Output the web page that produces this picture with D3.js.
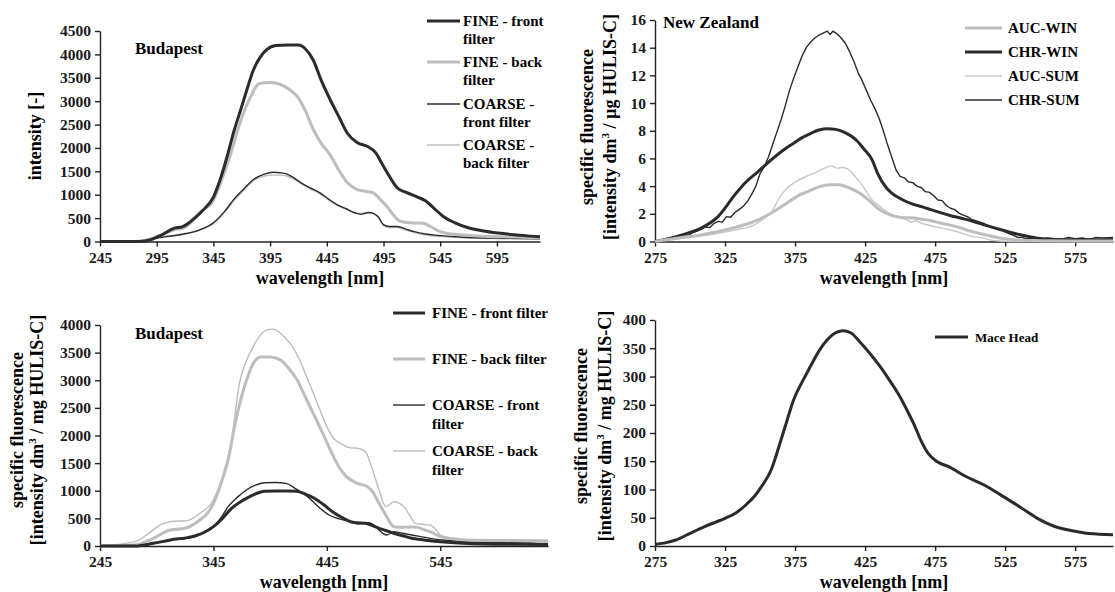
<!DOCTYPE html>
<html lang="en">
<head>
<meta charset="UTF-8">
<title>HULIS fluorescence spectra</title>
<style>
  body { margin: 0; background: #fff; }
  svg { display: block; font-family: "Liberation Serif", "Times New Roman", serif; font-weight: bold; }
  .tick text { font-size: 15.5px; font-family: "Liberation Serif", serif; font-weight: bold; fill: #1a1a1a; }
  .domain, .tick line { stroke: #222; stroke-width: 1.4px; }
</style>
</head>
<body>
<script src="https://d3js.org/d3.v7.min.js"></script>
<script>

// ---- data: [wavelength nm, value] ----

// Budapest, intensity [-]
var p1FineFront = [[245,0],[280,0],[290,40],[300,150],[310,280],[318,320],[325,430],[335,650],[345,950],[352,1400],[357,1810],[363,2350],[369,2810],[375,3280],[380,3650],[386,3930],[392,4100],[400,4190],[410,4200],[420,4200],[426,4120],[433,3880],[440,3450],[448,3030],[456,2650],[463,2320],[472,2110],[481,2030],[488,1900],[494,1650],[500,1400],[507,1150],[515,1050],[525,950],[532,870],[540,700],[548,530],[558,400],[569,300],[582,230],[596,180],[610,145],[625,115],[633,100]];
var p1FineBack = [[245,0],[275,0],[285,30],[295,100],[305,200],[312,260],[318,280],[325,400],[335,650],[345,880],[352,1300],[360,1850],[368,2500],[376,3000],[386,3380],[395,3400],[404,3360],[412,3250],[419,3100],[426,2800],[433,2400],[440,2100],[448,1850],[455,1550],[463,1260],[472,1110],[480,1070],[486,1040],[492,900],[498,750],[504,560],[510,430],[518,400],[530,390],[538,300],[545,210],[555,160],[566,140],[585,110],[610,95],[633,80]];
var p1CoarseFront = [[245,0],[278,0],[285,40],[300,90],[316,150],[333,250],[345,400],[355,650],[363,900],[372,1130],[380,1320],[390,1440],[398,1480],[404,1470],[410,1440],[416,1360],[422,1260],[430,1150],[439,1040],[447,900],[454,790],[462,700],[469,620],[475,580],[482,620],[486,600],[490,540],[495,360],[500,320],[507,320],[514,270],[522,210],[532,160],[543,130],[566,90],[600,70],[633,60]];
var p1CoarseBack = [[245,0],[280,0],[290,60],[300,110],[316,140],[333,240],[345,380],[355,620],[363,870],[372,1100],[380,1290],[390,1400],[398,1420],[404,1420],[410,1400],[416,1330],[422,1240],[430,1130],[439,1020],[447,880],[454,770],[462,690],[469,610],[475,600],[482,620],[486,590],[490,520],[495,340],[500,300],[507,300],[514,250],[522,190],[532,140],[543,110],[566,80],[600,60],[633,50]];

// New Zealand, specific fluorescence per ug HULIS-C
var p2AucWin = [[275,0],[283,0.12],[295,0.3],[308,0.48],[320,0.73],[333,1.04],[346,1.45],[358,2.06],[365,2.5],[371,2.9],[377,3.3],[384,3.6],[392,3.95],[400,4.1],[406,4.1],[413,3.9],[421,3.5],[428,2.95],[434,2.4],[440,2.05],[447,1.8],[453,1.72],[459,1.7],[466,1.6],[472,1.5],[478,1.35],[485,1.2],[491,1.05],[497,0.85],[503,0.68],[510,0.5],[516,0.36],[522,0.24],[528,0.16],[535,0.1],[550,0.05],[575,0.03],[602,0.03]];
var p2ChrWin = [[275,0],[283,0.17],[295,0.5],[308,0.97],[320,1.8],[333,3.5],[340,4.3],[348,5.0],[358,5.9],[368,6.7],[374,7.1],[380,7.5],[386,7.8],[392,8.05],[398,8.15],[404,8.1],[410,7.9],[419,7.3],[424,6.7],[430,5.9],[434,4.9],[440,3.9],[444,3.5],[452,3.0],[459,2.7],[466,2.5],[472,2.3],[485,1.9],[497,1.6],[510,1.2],[522,0.85],[535,0.5],[548,0.24],[560,0.15],[580,0.12],[602,0.15]];
var p2AucSum = [[275,0],[283,0.1],[295,0.25],[308,0.4],[320,0.6],[333,0.85],[346,1.2],[352,1.6],[358,2.1],[363,3.0],[367,3.6],[371,4.0],[377,4.4],[384,4.75],[390,5.0],[396,5.3],[401,5.45],[405,5.3],[409,5.35],[414,5.15],[418,4.7],[422,4.2],[426,3.6],[430,3.0],[436,2.5],[442,2.06],[448,1.8],[454,1.6],[458,1.4],[461,1.5],[466,1.3],[472,1.14],[478,1.0],[485,0.85],[491,0.7],[497,0.5],[503,0.35],[510,0.24],[515,0.1],[525,0.02],[540,0],[602,0]];
var p2ChrSum = [[275,0.0],[278,0.1],[281,0.05],[284,0.2],[287,0.15],[290,0.35],[293,0.3],[296,0.5],[299,0.45],[302,0.65],[305,0.75],[308,0.9],[311,1.05],[314,1.0],[317,1.3],[320,1.45],[323,1.4],[326,1.8],[329,1.75],[332,2.1],[335,2.3],[338,2.55],[341,2.9],[344,3.4],[347,4.0],[350,4.9],[353,5.4],[356,6.1],[359,7.0],[362,7.9],[365,8.8],[368,9.8],[371,10.9],[374,11.8],[377,12.6],[380,13.4],[383,14.0],[386,14.4],[389,14.7],[392,14.9],[395,15.05],[398,15.2],[400,14.95],[402,15.2],[405,15.0],[408,14.7],[411,14.3],[414,13.7],[417,13.0],[420,12.2],[423,11.6],[426,10.9],[429,10.2],[432,9.6],[435,8.9],[438,8.0],[441,7.0],[444,6.1],[447,5.2],[450,4.7],[453,4.6],[456,4.3],[459,4.25],[462,4.0],[465,3.9],[468,3.6],[471,3.55],[474,3.3],[477,3.0],[480,2.95],[483,2.6],[486,2.4],[489,2.3],[492,2.05],[495,1.9],[498,1.8],[501,1.6],[504,1.5],[507,1.4],[510,1.3],[513,1.15],[516,1.05],[519,0.9],[522,0.85],[525,0.7],[528,0.55],[531,0.45],[534,0.3],[537,0.3],[540,0.2],[545,0.25],[550,0.15],[555,0.25],[560,0.2],[565,0.15],[570,0.3],[575,0.2],[580,0.25],[585,0.15],[590,0.3],[595,0.25],[602,0.3]];

// Budapest, specific fluorescence per mg HULIS-C
var p3FineFront = [[245,0],[276,0],[292,48],[307,109],[326,169],[336,240],[345,350],[353,500],[361,682],[369,800],[377,893],[384,960],[390,990],[400,995],[410,995],[418,990],[426,940],[434,863],[442,750],[450,621],[458,520],[466,440],[472,420],[479,410],[485,370],[491,320],[497,280],[504,230],[512,185],[520,140],[532,105],[545,78],[565,50],[583,36],[610,30],[640,28]];
var p3FineBack = [[245,0],[276,18],[292,140],[307,290],[320,320],[333,470],[340,600],[345,772],[352,1150],[358,1556],[364,2200],[369,2640],[375,3050],[380,3300],[387,3420],[395,3420],[404,3370],[412,3200],[419,3000],[426,2700],[433,2400],[440,2100],[449,1700],[456,1420],[462,1260],[472,1134],[481,1074],[486,960],[491,772],[497,560],[504,350],[512,340],[523,345],[530,300],[536,260],[545,170],[556,130],[567,109],[600,100],[640,95]];
var p3CoarseFront = [[245,0],[276,0],[292,50],[307,109],[326,151],[336,230],[345,338],[352,520],[358,712],[366,880],[374,1014],[382,1100],[390,1146],[400,1150],[409,1134],[418,1030],[428,893],[437,720],[447,561],[456,490],[466,440],[472,400],[477,410],[482,422],[487,370],[491,290],[495,220],[498,200],[504,260],[512,230],[520,200],[536,139],[550,105],[567,78],[600,60],[630,48],[640,45]];
var p3CoarseBack = [[245,0],[276,78],[288,230],[301,410],[314,452],[320,452],[333,591],[345,832],[352,1195],[361,1920],[368,2950],[374,3350],[380,3607],[387,3830],[394,3920],[398,3925],[404,3850],[410,3730],[415,3600],[421,3370],[427,3070],[433,2770],[439,2460],[445,2160],[451,1950],[457,1860],[465,1780],[472,1770],[479,1707],[485,1400],[491,1014],[497,712],[501,760],[504,802],[508,780],[513,712],[518,560],[523,410],[530,390],[536,380],[541,300],[545,200],[555,140],[567,109],[599,78],[630,78]];

// Mace Head, specific fluorescence per mg HULIS-C
var p4MaceHead = [[275,3],[283,6],[290,10.6],[300,22.5],[310,34],[318,42],[325,49],[333,59],[340,73],[346,88],[351,105],[358,135],[364,180],[369,220],[374,259],[380,290],[386,318],[392,345],[398,365],[403,376],[409,381],[415,377],[421,362],[428,342],[435,320],[442,295],[449,268],[455,240],[460,215],[465,186],[470,164],[476,150],[485,140],[497,123],[510,108],[522,90],[535,70],[548,49],[560,35],[573,27],[585,22],[602,20]];

// tick values
var ticksX1 = [245, 295, 345, 395, 445, 495, 545, 595];
var ticksX2 = [275, 325, 375, 425, 475, 525, 575];
var ticksX3 = [245, 345, 445, 545];
var ticksY1 = d3.range(0, 4501, 500);
var ticksY2 = d3.range(0, 17, 2);
var ticksY3 = d3.range(0, 4001, 500);
var ticksY4 = d3.range(0, 401, 50);

var dark = "#2b2b2b", light = "#bdbdbd";

var svg = d3.select("body").append("svg")
    .attr("width", 1115)
    .attr("height", 592)

function drawPanel(p) {
    var x = d3.scaleLinear().domain(p.xDomain).range(p.xRange)
    var y = d3.scaleLinear().domain(p.yDomain).range(p.yRange)
    var g = svg.append("g")

    // axes
    g.append("g")
        .attr("transform", "translate(0," + p.yRange[0] + ")")
        .call(d3.axisBottom(x).tickValues(p.xTicks).tickSize(5).tickSizeOuter(0).tickPadding(5).tickFormat(d3.format("d")))
    g.append("g")
        .attr("transform", "translate(" + p.xRange[0] + ",0)")
        .call(d3.axisLeft(y).tickValues(p.yTicks).tickSize(5).tickSizeOuter(0).tickPadding(4).tickFormat(d3.format("d")))

    // curves (series are listed in drawing order)
    p.series.forEach(function (s) {
        var line = d3.line()
            .x(function (d) { return x(d[0]) })
            .y(function (d) { return y(d[1]) })
            .curve(s.jagged ? d3.curveLinear : d3.curveMonotoneX)
        g.append("path")
            .datum(s.data)
            .attr("d", line)
            .attr("fill", "none")
            .attr("stroke", s.color)
            .attr("stroke-width", s.width)
            .attr("stroke-linejoin", "round")
    })

    // x label
    g.append("text")
        .attr("x", (p.xRange[0] + p.xRange[1]) / 2)
        .attr("y", p.yRange[0] + 42)
        .attr("text-anchor", "middle")
        .style("font-size", "18px")
        .text("wavelength [nm]")

    // y label (one or two lines)
    p.yLabel.forEach(function (t, i) {
        var tx = g.append("text")
            .attr("transform", "translate(" + p.yLabelX[i] + "," + p.yLabelY + ") rotate(-90)")
            .attr("text-anchor", "middle")
            .style("font-size", "18px")
        if (t.indexOf("³") >= 0) {
            var parts = t.split("³")
            tx.append("tspan").text(parts[0])
            tx.append("tspan").attr("dy", -7).style("font-size", "11px").text("3")
            tx.append("tspan").attr("dy", 7).text(parts[1])
        } else {
            tx.text(t)
        }
    })

    // site name
    if (p.title) {
        g.append("text")
            .attr("x", p.title[1])
            .attr("y", p.title[2])
            .style("font-size", "17px")
            .text(p.title[0])
    }

    // legend, each entry at its own y
    var lg = p.legend
    p.series.forEach(function (s) {
        var ly = s.ly
        g.append("line")
            .attr("x1", lg.x1).attr("x2", lg.x2)
            .attr("y1", ly).attr("y2", ly)
            .attr("stroke", s.color)
            .attr("stroke-width", s.width)
        s.label.forEach(function (t, j) {
            g.append("text")
                .attr("x", lg.tx)
                .attr("y", ly + j * lg.gap)
                .attr("dominant-baseline", "central")
                .style("font-size", lg.size)
                .text(t)
        })
    })
}

// top left
drawPanel({
    xDomain: [245, 633], xRange: [100, 540],
    yDomain: [0, 4500], yRange: [241.5, 31],
    xTicks: ticksX1, yTicks: ticksY1,
    yLabel: ["intensity [-]"], yLabelX: [41], yLabelY: 136,
    title: ["Budapest", 135, 54],
    legend: { x1: 427, x2: 460, tx: 463, gap: 18, size: "15px" },
    series: [
        { data: p1CoarseBack, color: light, width: 1.4, ly: 145, label: ["COARSE -", "back filter"] },
        { data: p1CoarseFront, color: dark, width: 1.4, ly: 104, label: ["COARSE -", "front filter"] },
        { data: p1FineBack, color: light, width: 3, ly: 62, label: ["FINE - back", "filter"] },
        { data: p1FineFront, color: dark, width: 3, ly: 21, label: ["FINE - front", "filter"] }
    ]
})

// top right
drawPanel({
    xDomain: [275, 602], xRange: [655, 1113],
    yDomain: [0, 16], yRange: [241.5, 20],
    xTicks: ticksX2, yTicks: ticksY2,
    yLabel: ["specific fluorescence", "[intensity dm³ / µg HULIS-C]"], yLabelX: [593, 616], yLabelY: 127,
    title: ["New Zealand", 663, 28],
    legend: { x1: 965, x2: 1002, tx: 1008, gap: 18, size: "15px" },
    series: [
        { data: p2ChrSum, color: dark, width: 1.4, jagged: true, ly: 100, label: ["CHR-SUM"] },
        { data: p2AucSum, color: "#c8c8c8", width: 1.4, ly: 76, label: ["AUC-SUM"] },
        { data: p2ChrWin, color: dark, width: 3, ly: 52, label: ["CHR-WIN"] },
        { data: p2AucWin, color: light, width: 3, ly: 28, label: ["AUC-WIN"] }
    ]
})

// bottom left
drawPanel({
    xDomain: [245, 640], xRange: [100, 548],
    yDomain: [0, 4000], yRange: [546, 325],
    xTicks: ticksX3, yTicks: ticksY3,
    yLabel: ["specific fluorescence", "[intensity dm³ / mg HULIS-C]"], yLabelX: [23, 43], yLabelY: 430,
    title: ["Budapest", 135, 339],
    legend: { x1: 393, x2: 425, tx: 432, gap: 19, size: "15px" },
    series: [
        { data: p3CoarseBack, color: light, width: 1.4, ly: 451, label: ["COARSE - back", "filter"] },
        { data: p3CoarseFront, color: dark, width: 1.4, ly: 405, label: ["COARSE - front", "filter"] },
        { data: p3FineBack, color: light, width: 3, ly: 359, label: ["FINE - back filter"] },
        { data: p3FineFront, color: dark, width: 3, ly: 313, label: ["FINE - front filter"] }
    ]
})

// bottom right
drawPanel({
    xDomain: [275, 602], xRange: [655, 1113],
    yDomain: [0, 400], yRange: [546, 320],
    xTicks: ticksX2, yTicks: ticksY4,
    yLabel: ["specific fluorescence", "[intensity dm³ / mg HULIS-C]"], yLabelX: [587, 611], yLabelY: 426,
    title: null,
    legend: { x1: 935, x2: 968, tx: 975, gap: 18, size: "13px" },
    series: [
        { data: p4MaceHead, color: dark, width: 3, ly: 337, label: ["Mace Head"] }
    ]
})

</script>
</body>
</html>
